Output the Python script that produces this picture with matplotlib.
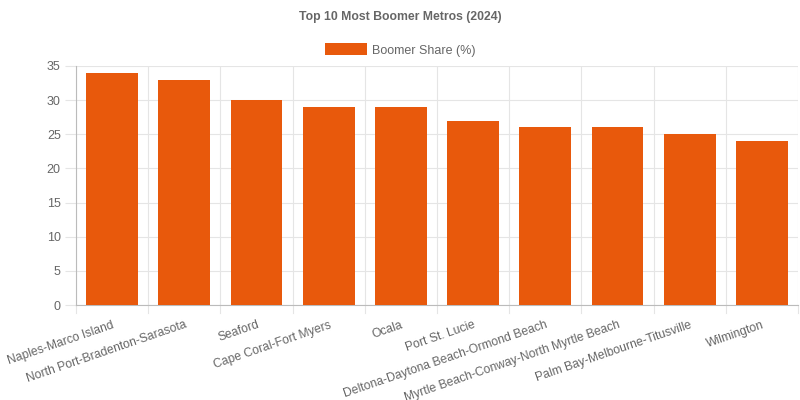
import numpy as np
import matplotlib.pyplot as plt

# data
metros = [
    "Naples-Marco Island",
    "North Port-Bradenton-Sarasota",
    "Seaford",
    "Cape Coral-Fort Myers",
    "Ocala",
    "Port St. Lucie",
    "Deltona-Daytona Beach-Ormond Beach",
    "Myrtle Beach-Conway-North Myrtle Beach",
    "Palm Bay-Melbourne-Titusville",
    "Wilmington",
]
boomer_share = [34, 33, 30, 29, 29, 27, 26, 26, 25, 24]
y_ticks = [0, 5, 10, 15, 20, 25, 30, 35]

BAR_COL = "#E8590C"
TXT_COL = "#666666"
GRID_COL = "#e5e5e5"

plt.rcParams["font.family"] = ["Liberation Sans", "DejaVu Sans"]

fig = plt.figure(figsize=(8, 4), dpi=100)
ax = fig.add_axes([0.095, 0.2375, 0.9025, 0.5975])

x = np.arange(len(metros))
ax.bar(x, boomer_share, width=0.72, color=BAR_COL, zorder=3,
       label="Boomer Share (%)")

ax.set_xlim(-0.5, len(metros) - 0.5)
ax.set_ylim(0, 35)
ax.set_yticks(y_ticks)
ax.set_yticklabels([str(v) for v in y_ticks], color=TXT_COL, fontsize=9)

# grid at category boundaries
for b in np.arange(-0.5, len(metros), 1.0):
    ax.axvline(b, color=GRID_COL, lw=0.8, zorder=0)
    ax.plot([b, b], [0, -0.035], transform=ax.get_xaxis_transform(),
            color=GRID_COL, lw=0.8, clip_on=False)
for v in y_ticks:
    ax.axhline(v, color=GRID_COL, lw=0.8, zorder=0)

ax.set_xticks(x)
ax.set_xticklabels(metros, rotation=19, ha="right", va="top",
                   rotation_mode="anchor", color=TXT_COL, fontsize=8.7)
ax.tick_params(axis="x", length=0, pad=10)
ax.tick_params(axis="y", length=8, color=GRID_COL, pad=3)

for s in ["top", "right"]:
    ax.spines[s].set_visible(False)
ax.spines["left"].set_color("#bbbbbb")
ax.spines["bottom"].set_color("#bbbbbb")
ax.spines["left"].set_linewidth(0.8)
ax.spines["bottom"].set_linewidth(0.8)

fig.text(0.5, 0.957, "Top 10 Most Boomer Metros (2024)", ha="center",
         va="center", fontsize=8.8, fontweight="bold", color=TXT_COL)
ax.legend(loc="center", bbox_to_anchor=(0.5, 0.875),
          bbox_transform=fig.transFigure, frameon=False,
          fontsize=9, labelcolor=TXT_COL, handlelength=3.4,
          handleheight=1.1, handletextpad=0.4)

fig.savefig("out.png", dpi=100)
